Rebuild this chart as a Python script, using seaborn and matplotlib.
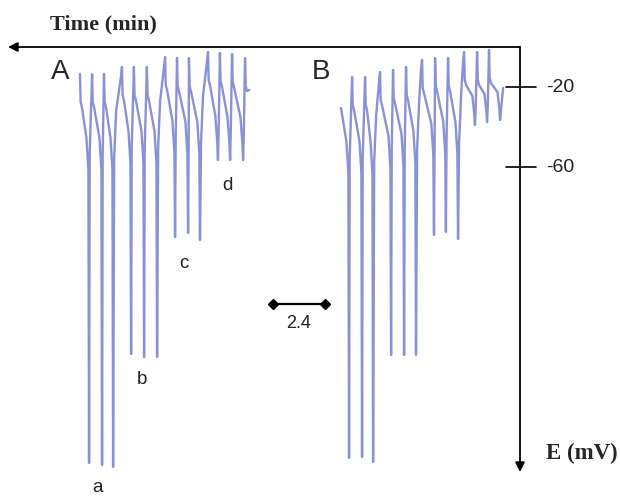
import pandas as pd
import seaborn as sns
import matplotlib.pyplot as plt

# time in min measured leftward from the E axis, potential in mV
# trace A: peaks and spike bottoms, in the order they are drawn
a_peak_t = [20.31, 19.75, 19.20, 18.37, 17.82, 17.22, 16.38, 15.83, 15.28, 14.40, 13.85, 13.29, 12.69]
a_peak_e = [-13.5, -13.5, -13.5, -10.0, -10.0, -10.0, -5.0, -5.5, -5.5, -2.5, -3.0, -3.5, -5.5]
a_bottom_t = [19.89, 19.29, 18.78, 17.95, 17.35, 16.75, 15.92, 15.32, 14.77, 13.94, 13.38, 12.78]
a_bottom_e = [-208.0, -209.0, -210.0, -153.5, -155.0, -155.0, -95.0, -93.0, -96.5, -56.5, -56.5, -56.5]

# trace B: starts at a point, then bottom / peak pairs, ends on a short rise
b_start = (8.26, -30.5)
b_bottom_t = [7.89, 7.29, 6.78, 5.95, 5.35, 4.80, 3.97, 3.42, 2.86, 2.08, 1.52, 0.92]
b_bottom_e = [-205.5, -205.0, -207.5, -154.0, -154.0, -154.0, -94.0, -92.5, -96.0, -39.0, -37.5, -36.5]
b_peak_t = [7.75, 7.15, 6.46, 5.86, 5.26, 4.52, 3.92, 3.32, 2.58, 1.98, 1.43]
b_peak_e = [-15.0, -15.0, -12.5, -11.5, -10.0, -6.5, -5.5, -5.5, -2.5, -2.5, -1.5]
b_end = (0.78, -20.5)

spike_labels = ["a", "b", "c", "d"]
spike_label_t = [19.48, 17.45, 15.51, 13.48]
spike_label_e = [-220.5, -166.5, -108.5, -69.0]

ticks_e = [-20, -60]
scale_bar_min = 2.4


def peak_and_shoulder(pts, t, e):
    pts += [(t, e), (t - 0.03, e - 14), (t - 0.09, e - 16.5)]


def descend(pts, e_ref, bt, be):
    depth = e_ref - be
    pts += [(bt + 0.12, e_ref - min(32, 0.6 * depth)),
            (bt + 0.03, e_ref - min(48, 0.85 * depth)), (bt, be)]


def ascend(pts, bt, be, pt, pe):
    depth = pe - be
    if bt - pt > 0.2:
        pts += [(bt - 0.05, pe - min(45, 0.85 * depth)), (bt - 0.14, pe - 22), (pt + 0.05, pe - 5)]
    else:
        pts += [(bt - 0.03, pe - min(40, 0.8 * depth))]


# trace A
pts_a = []
peak_and_shoulder(pts_a, a_peak_t[0], a_peak_e[0])
for i in range(len(a_bottom_t)):
    descend(pts_a, a_peak_e[i], a_bottom_t[i], a_bottom_e[i])
    ascend(pts_a, a_bottom_t[i], a_bottom_e[i], a_peak_t[i + 1], a_peak_e[i + 1])
    peak_and_shoulder(pts_a, a_peak_t[i + 1], a_peak_e[i + 1])
pts_a.append((a_peak_t[-1] - 0.2, a_peak_e[-1] - 16))

# trace B
pts_b = [b_start]
descend(pts_b, b_start[1] + 15, b_bottom_t[0], b_bottom_e[0])
for i in range(len(b_peak_t)):
    ascend(pts_b, b_bottom_t[i], b_bottom_e[i], b_peak_t[i], b_peak_e[i])
    peak_and_shoulder(pts_b, b_peak_t[i], b_peak_e[i])
    descend(pts_b, b_peak_e[i], b_bottom_t[i + 1], b_bottom_e[i + 1])
pts_b.append(b_end)

rows = []
for name, pts in [("A", pts_a), ("B", pts_b)]:
    for k, (t, e) in enumerate(pts):
        rows.append({"trace": name, "order": k, "time": t, "E": e})
df = pd.DataFrame(rows)

sns.set_style("white")
fig = plt.figure(figsize=(6.2, 4.96), dpi=100)
ax = fig.add_axes([0, 0, 1, 1])

sns.lineplot(data=df, x="time", y="E", hue="trace", units="trace", estimator=None,
             sort=False, palette=["#6d76ca", "#6d76ca"], lw=1.7, alpha=0.8,
             legend=False, ax=ax)

ax.set_xlim(24.0, -4.615)
ax.set_ylim(-224.5, 23.5)
ax.axis("off")

# axes drawn as arrows from the corner
arrow = dict(arrowstyle="-|>", color="black", lw=1.3, mutation_scale=14, shrinkA=0, shrinkB=0)
ax.annotate("", xy=(23.63, 0), xytext=(0, 0), arrowprops=arrow)
ax.annotate("", xy=(0, -212.5), xytext=(0, 0), arrowprops=arrow)
for e in ticks_e:
    ax.plot([0.65, -0.72], [e, e], color="black", lw=1.2)
    ax.text(-1.2, e, str(e), ha="left", va="center", fontsize=14,
            family="Liberation Sans", color="#222222")

ax.text(21.69, 11.5, "Time (min)", ha="left", va="center", fontsize=16,
        family="Liberation Serif", fontweight="bold")
ax.text(-1.2, -203, "E (mV)", ha="left", va="center", fontsize=16.5,
        family="Liberation Serif", fontweight="bold")

ax.text(21.23, -12.5, "A", ha="center", va="center", fontsize=20, family="Liberation Sans")
ax.text(9.18, -12.5, "B", ha="center", va="center", fontsize=20, family="Liberation Sans")
for lab, t, e in zip(spike_labels, spike_label_t, spike_label_e):
    ax.text(t, e, lab, ha="center", va="center", fontsize=13.5,
            family="Liberation Sans", color="#222222")

# scale bar
bar_t = [11.40, 11.40 - scale_bar_min]
ax.plot(bar_t, [-128.5, -128.5], color="black", lw=1.6, marker="D", markersize=5)
ax.text(sum(bar_t) / 2, -138, "2.4", ha="center", va="center", fontsize=13,
        family="Liberation Sans", color="#222222")

fig.savefig("out.png", dpi=100)
